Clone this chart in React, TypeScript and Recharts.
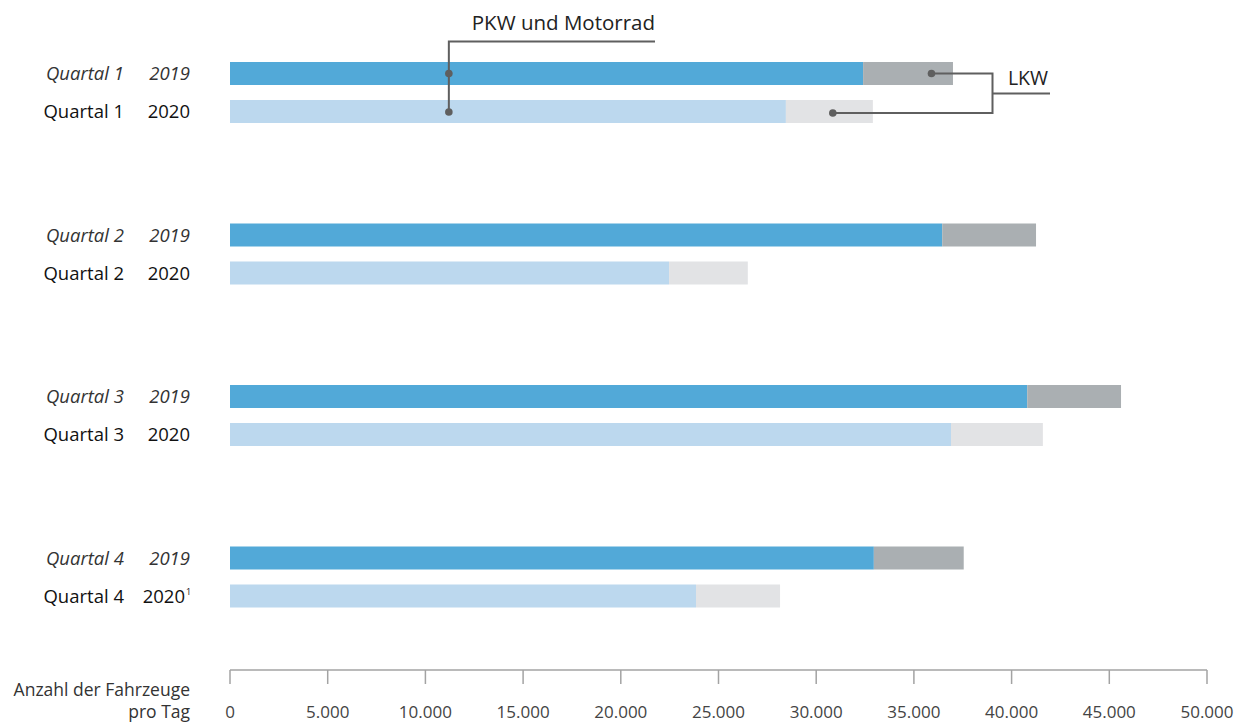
import React from 'react';
import { BarChart, Bar, XAxis, YAxis } from 'recharts';

const quarters = ['Quartal 1', 'Quartal 2', 'Quartal 3', 'Quartal 4'];
const pkw2019 = [32400, 36450, 40800, 32950];
const lkw2019 = [4600, 4800, 4800, 4600];
const pkw2020 = [28450, 22470, 36900, 23850];
const lkw2020 = [4450, 4030, 4700, 4300];
const xTicks = [0, 5000, 10000, 15000, 20000, 25000, 30000, 35000, 40000, 45000, 50000];
const yearLabels2019 = ['2019', '2019', '2019', '2019'];
const yearLabels2020 = ['2020', '2020', '2020', '2020'];
const footnote2020 = ['', '', '', '1'];

const data = quarters.map((q, i) => ({
  q,
  pkw2019: pkw2019[i],
  lkw2019: lkw2019[i],
  pkw2020: pkw2020[i],
  lkw2020: lkw2020[i],
}));

const FONT = '"Open Sans", "Noto Sans", sans-serif';
const W = 1245;
const H = 724;
const PLOT_LEFT = 230;
const PLOT_RIGHT = 1207;
const X_MAX = 50000;
const xOf = (v: number) => PLOT_LEFT + (v / X_MAX) * (PLOT_RIGHT - PLOT_LEFT);

const fmt = (v: number) => v.toString().replace(/\B(?=(\d{3})+(?!\d))/g, '.');

const YTick = (props: any) => {
  const { y, payload, index } = props;
  const i = typeof index === 'number' ? index : quarters.indexOf(payload.value);
  return (
    <g>
      <text x={124} y={y - 19 + 6.5} textAnchor="end" fontFamily={FONT} fontSize={18.5} fontStyle="italic" fill="#333">
        {payload.value}
      </text>
      <text x={190} y={y - 19 + 6.5} textAnchor="end" fontFamily={FONT} fontSize={18.5} fontStyle="italic" fill="#333">
        {yearLabels2019[i]}
      </text>
      <text x={124} y={y + 19 + 6.5} textAnchor="end" fontFamily={FONT} fontSize={18.5} fill="#111">
        {payload.value}
      </text>
      <text x={footnote2020[i] ? 185 : 190} y={y + 19 + 6.5} textAnchor="end" fontFamily={FONT} fontSize={18.5} fill="#111">
        {yearLabels2020[i]}
      </text>
      {footnote2020[i] ? (
        <text x={186} y={y + 19 - 1} fontFamily={FONT} fontSize={9} fill="#111">{footnote2020[i]}</text>
      ) : null}
    </g>
  );
};

const XTick = (props: any) => {
  const { x, y, payload } = props;
  return (
    <text x={x} y={y + 32} textAnchor="middle" fontFamily={FONT} fontSize={17} fill="#444">
      {fmt(payload.value)}
    </text>
  );
};

const LINE = '#5f5f5f';

export default function App() {
  return (
    <div style={{ position: 'absolute', left: 0, top: 0, width: W, height: H, background: '#fff' }}>
      <BarChart
        width={W}
        height={H}
        data={data}
        layout="vertical"
        margin={{ top: 12, right: W - PLOT_RIGHT, bottom: 0, left: 0 }}
        barGap={15}
        barSize={23}
      >
        <XAxis
          type="number"
          domain={[0, X_MAX]}
          ticks={xTicks}
          interval={0}
          height={54}
          tickSize={14}
          axisLine={{ stroke: '#a3a3a3', strokeWidth: 1.5 }}
          tickLine={{ stroke: '#a3a3a3', strokeWidth: 1.5 }}
          tick={<XTick />}
        />
        <YAxis
          type="category"
          dataKey="q"
          width={PLOT_LEFT}
          axisLine={false}
          tickLine={false}
          padding={{ top: 0, bottom: 12 }}
          tick={<YTick />}
          interval={0}
        />
        <Bar dataKey="pkw2019" stackId="a" fill="#52a9d8" isAnimationActive={false} />
        <Bar dataKey="lkw2019" stackId="a" fill="#aaafb2" isAnimationActive={false} />
        <Bar dataKey="pkw2020" stackId="b" fill="#bcd8ee" isAnimationActive={false} />
        <Bar dataKey="lkw2020" stackId="b" fill="#e2e3e5" isAnimationActive={false} />
      </BarChart>
      <svg width={W} height={H} style={{ position: 'absolute', left: 0, top: 0, pointerEvents: 'none' }}>
        {/* PKW und Motorrad annotation */}
        <text x={655} y={30} textAnchor="end" fontFamily={FONT} fontSize={20.5} fill="#222">PKW und Motorrad</text>
        <polyline points={`${655},41.5 ${xOf(11200)},41.5 ${xOf(11200)},112`} fill="none" stroke={LINE} strokeWidth={2} />
        <circle cx={xOf(11200)} cy={73.5} r={3.8} fill={LINE} />
        <circle cx={xOf(11200)} cy={112} r={3.8} fill={LINE} />
        {/* LKW annotation */}
        <text x={1028} y={85} textAnchor="middle" fontFamily={FONT} fontSize={19.5} fill="#222">LKW</text>
        <polyline points={`${xOf(35900)},73.5 992.5,73.5 992.5,113 ${xOf(30850)},113`} fill="none" stroke={LINE} strokeWidth={2} />
        <line x1={992.5} y1={93.5} x2={1050} y2={93.5} stroke={LINE} strokeWidth={2} />
        <circle cx={xOf(35900)} cy={73.5} r={3.8} fill={LINE} />
        <circle cx={xOf(30850)} cy={113} r={3.8} fill={LINE} />
        {/* axis title */}
        <text x={190} y={696} textAnchor="end" fontFamily={FONT} fontSize={17.5} fill="#333">Anzahl der Fahrzeuge</text>
        <text x={190} y={718} textAnchor="end" fontFamily={FONT} fontSize={17.5} fill="#333">pro Tag</text>
      </svg>
    </div>
  );
}
